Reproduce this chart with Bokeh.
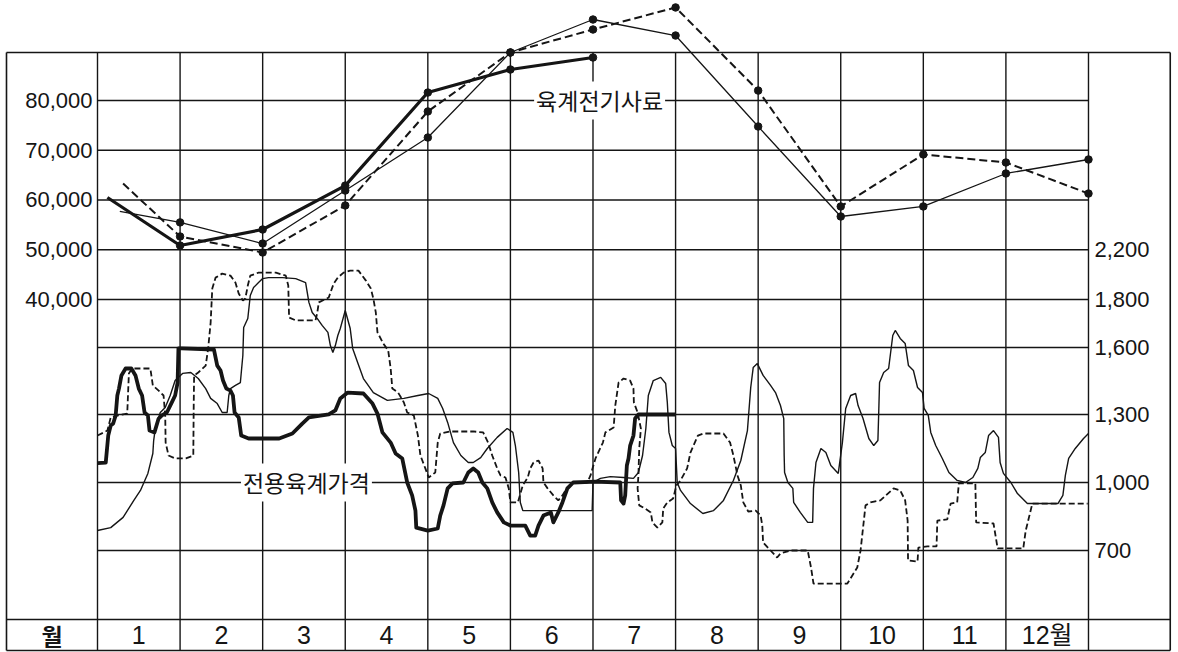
import numpy as np
from bokeh.plotting import figure
from bokeh.models import Range1d
from bokeh.core.properties import value
from bokeh.embed import file_html
from bokeh.resources import INLINE

# ---------------- data ----------------
MONTH_LABELS = ["1", "2", "3", "4", "5", "6", "7", "8", "9", "10", "11", "12월"]
CORNER_LABEL = "월"
LEFT_TICKS = [40000, 50000, 60000, 70000, 80000]
LEFT_LABELS = ["40,000", "50,000", "60,000", "70,000", "80,000"]
RIGHT_TICKS = [700, 1000, 1300, 1600, 1800, 2200]
RIGHT_LABELS = ["700", "1,000", "1,300", "1,600", "1,800", "2,200"]
# where each right-axis tick sits on the left-axis scale (the right scale is piecewise)
RIGHT_TICK_POS = [-10450, 3220, 16890, 30350, 40000, 50000]

FEED_LABEL = "육계전기사료"
PRICE_LABEL = "전용육계가격"

# upper chart: feed price (left axis), x in months
feed_heavy_x = [0.12, 1, 2, 3, 4, 5, 6]
feed_heavy_y = [60500, 50850, 54070, 62900, 81600, 86230, 88640]
feed_thin_x = [0.27, 1, 2, 3, 4, 5, 6, 7, 8, 9, 10, 11, 12]
feed_thin_y = [57700, 55500, 51250, 61900, 72560, 89650, 96280, 93060, 74770, 56680, 58700, 65330, 68140]
feed_dash_x = [0.31, 1, 2, 3, 4, 5, 6, 7, 8, 9, 10, 11, 12]
feed_dash_y = [63300, 52660, 49450, 58900, 77800, 89650, 94270, 98700, 82000, 58700, 69150, 67540, 61300]

# lower chart: broiler price (right axis)
price_heavy_x = [0.00, 0.10, 0.13, 0.16, 0.19, 0.22, 0.24, 0.26, 0.29, 0.34, 0.41, 0.46, 0.50, 0.54, 0.57,
                 0.61, 0.63, 0.69, 0.74, 0.78, 0.84, 0.90, 0.94, 0.97, 0.98, 1.02, 1.41, 1.45, 1.49, 1.52,
                 1.56, 1.61, 1.64, 1.66, 1.71, 1.74, 1.83, 2.20, 2.36, 2.48, 2.56, 2.80, 2.88, 2.94, 3.03,
                 3.22, 3.33, 3.39, 3.45, 3.55, 3.61, 3.69, 3.75, 3.81, 3.85, 3.86, 4.00, 4.12, 4.15, 4.19,
                 4.24, 4.30, 4.43, 4.49, 4.55, 4.61, 4.66, 4.72, 4.78, 4.84, 4.92, 5.00, 5.18, 5.24, 5.30,
                 5.34, 5.40, 5.49, 5.52, 5.58, 5.63, 5.69, 5.76, 6.03, 6.33, 6.34, 6.37, 6.39, 6.41, 6.43,
                 6.45, 6.49, 6.51, 6.55, 7.00]
price_heavy_y = [1085, 1088, 1207, 1251, 1260, 1296, 1385, 1416, 1475, 1506, 1506, 1475, 1416, 1385, 1309,
                 1296, 1229, 1221, 1282, 1296, 1309, 1354, 1385, 1443, 1596, 1596, 1591, 1519, 1497, 1452,
                 1416, 1407, 1385, 1309, 1287, 1207, 1194, 1194, 1216, 1260, 1287, 1300, 1318, 1372, 1398,
                 1394, 1349, 1304, 1221, 1176, 1128, 1106, 1000, 943, 876, 801, 788, 797, 854, 899,
                 974, 996, 1000, 1044, 1062, 1044, 1000, 974, 912, 868, 824, 810, 810, 766, 766,
                 810, 854, 868, 824, 868, 912, 974, 1000, 1004, 1000, 921, 907, 943, 1075, 1106,
                 1163, 1207, 1282, 1300, 1300]

price_thin_x = [0.00, 0.16, 0.31, 0.44, 0.52, 0.61, 0.67, 0.68, 0.70, 0.76, 0.82, 0.88, 0.94, 1.03, 1.13,
                1.22, 1.31, 1.37, 1.45, 1.51, 1.57, 1.59, 1.61, 1.67, 1.73, 1.76, 1.77, 1.82, 1.85, 1.89,
                1.95, 2.00, 2.07, 2.24, 2.40, 2.52, 2.56, 2.60, 2.66, 2.72, 2.79, 2.82, 2.85, 2.88, 2.91,
                2.94, 3.00, 3.06, 3.09, 3.15, 3.22, 3.34, 3.51, 3.71, 3.88, 4.01, 4.12, 4.18, 4.24, 4.31,
                4.40, 4.49, 4.55, 4.64, 4.72, 4.84, 4.96, 5.03, 5.06, 5.10, 5.12, 5.15, 5.99, 6.00, 6.09,
                6.21, 6.37, 6.49, 6.55, 6.60, 6.64, 6.67, 6.73, 6.82, 6.88, 6.90, 6.92, 6.96, 7.00, 7.02,
                7.06, 7.18, 7.33, 7.46, 7.58, 7.70, 7.79, 7.87, 7.91, 7.94, 7.99, 8.06, 8.15, 8.21, 8.27,
                8.31, 8.315, 8.32, 8.36, 8.42, 8.43, 8.51, 8.60, 8.66, 8.67, 8.70, 8.76, 8.82, 8.88, 8.97,
                9.02, 9.06, 9.12, 9.18, 9.21, 9.27, 9.34, 9.40, 9.45, 9.46, 9.47, 9.52, 9.58, 9.63, 9.66,
                9.72, 9.78, 9.82, 9.88, 9.93, 9.99, 10.01, 10.06, 10.09, 10.15, 10.23, 10.31, 10.41, 10.51, 10.60,
                10.66, 10.69, 10.75, 10.79, 10.85, 10.91, 10.93, 10.97, 11.06, 11.14, 11.26, 11.63, 11.69, 11.72, 11.76,
                11.84, 11.94, 12.00]
price_thin_y = [788, 801, 846, 921, 965, 1040, 1128, 1185, 1238, 1309, 1331, 1385, 1452, 1484, 1488,
                1461, 1416, 1372, 1349, 1309, 1309, 1385, 1416, 1430, 1443, 1564, 1683, 1721, 1832, 1896,
                1936, 1968, 1976, 1976, 1968, 1936, 1788, 1746, 1721, 1692, 1663, 1608, 1578, 1608, 1650,
                1679, 1754, 1679, 1596, 1533, 1461, 1398, 1363, 1372, 1385, 1394, 1372, 1327, 1265, 1176,
                1119, 1088, 1088, 1110, 1150, 1199, 1238, 1221, 1163, 1044, 912, 876, 876, 1000, 1018,
                1026, 1022, 1018, 1044, 1119, 1238, 1385, 1452, 1466, 1439, 1354, 1221, 1163, 1150, 1000,
                965, 907, 863, 876, 921, 1009, 1097, 1229, 1421, 1510, 1528, 1475, 1430, 1398, 1340,
                1282, 1119, 1044, 1000, 974, 912, 868, 824, 824, 974, 1088, 1150, 1132, 1075, 1040,
                1176, 1327, 1385, 1394, 1340, 1282, 1194, 1163, 1185, 1309, 1443, 1488, 1506, 1650, 1671,
                1638, 1617, 1519, 1497, 1421, 1398, 1327, 1296, 1221, 1163, 1106, 1044, 1009, 1000, 1022,
                1062, 1110, 1132, 1207, 1229, 1199, 1088, 1040, 1000, 951, 907, 907, 943, 1031, 1106,
                1150, 1194, 1216]

price_dash_x = [0.00, 0.12, 0.16, 0.25, 0.36, 0.38, 0.42, 0.64, 0.67, 0.74, 0.80, 0.82, 0.825, 0.86, 0.94,
                1.07, 1.16, 1.165, 1.17, 1.22, 1.31, 1.34, 1.37, 1.39, 1.43, 1.51, 1.61, 1.67, 1.71, 1.76,
                1.79, 1.82, 1.85, 1.95, 2.16, 2.28, 2.31, 2.32, 2.40, 2.64, 2.66, 2.68, 2.80, 2.86, 2.91,
                2.98, 3.06, 3.16, 3.25, 3.31, 3.34, 3.37, 3.39, 3.46, 3.52, 3.55, 3.57, 3.64, 3.71, 3.75,
                3.83, 3.88, 3.91, 3.97, 4.01, 4.09, 4.12, 4.15, 4.27, 4.55, 4.67, 4.73, 4.78, 4.84, 4.88,
                4.94, 4.98, 5.00, 5.09, 5.15, 5.21, 5.24, 5.28, 5.34, 5.39, 5.40, 5.45, 5.52, 5.58, 5.63,
                5.69, 5.76, 5.93, 5.97, 6.03, 6.12, 6.15, 6.25, 6.27, 6.31, 6.37, 6.45, 6.49, 6.495, 6.54,
                6.58, 6.56, 6.55, 6.54, 6.56, 6.63, 6.70, 6.72, 6.78, 6.84, 6.85, 6.90, 6.97, 7.01, 7.06,
                7.14, 7.18, 7.27, 7.34, 7.58, 7.66, 7.70, 7.75, 7.79, 7.82, 7.88, 7.97, 8.03, 8.05, 8.06,
                8.15, 8.23, 8.27, 8.39, 8.60, 8.64, 8.67, 9.08, 9.20, 9.24, 9.30, 9.36, 9.48, 9.64, 9.72,
                9.78, 9.81, 9.815, 9.93, 9.94, 10.05, 10.16, 10.17, 10.29, 10.33, 10.41, 10.43, 10.63, 10.64, 10.85,
                10.90, 11.21, 11.24, 11.27, 11.32, 11.99]
price_dash_y = [1207, 1229, 1287, 1296, 1304, 1484, 1506, 1506, 1430, 1407, 1385, 1296, 1176, 1119, 1106,
                1106, 1119, 1340, 1475, 1488, 1519, 1596, 1704, 1888, 1976, 2008, 1992, 1936, 1848, 1796,
                1808, 1912, 1992, 2016, 2016, 1992, 1912, 1725, 1713, 1713, 1742, 1788, 1816, 1928, 1976,
                2016, 2032, 2032, 1952, 1888, 1808, 1746, 1663, 1617, 1587, 1506, 1416, 1398, 1354, 1309,
                1296, 1207, 1119, 1062, 1022, 1044, 1176, 1216, 1225, 1225, 1221, 1176, 1119, 1062, 1031,
                1022, 974, 912, 912, 987, 1022, 1062, 1088, 1097, 1062, 1000, 974, 943, 921, 943,
                978, 1000, 1000, 1031, 1106, 1176, 1221, 1243, 1340, 1443, 1461, 1452, 1416, 1354, 1309,
                1238, 1150, 1031, 974, 899, 885, 868, 824, 801, 824, 885, 912, 929, 987, 1009,
                1062, 1132, 1207, 1216, 1216, 1176, 1119, 1031, 987, 912, 872, 876, 854, 810, 735,
                700, 669, 687, 700, 700, 625, 554, 554, 625, 700, 899, 912, 921, 974, 965,
                921, 832, 656, 651, 713, 718, 718, 832, 837, 907, 912, 996, 996, 824, 819,
                709, 709, 788, 832, 907, 907]


def to_pos(v):
    """Place right-axis values on the shared (left-axis) scale, piecewise linear."""
    v = np.asarray(v, dtype=float)
    pos = np.interp(v, RIGHT_TICKS, RIGHT_TICK_POS)
    lo = v < RIGHT_TICKS[0]
    slope = (RIGHT_TICK_POS[1] - RIGHT_TICK_POS[0]) / (RIGHT_TICKS[1] - RIGHT_TICKS[0])
    pos[lo] = RIGHT_TICK_POS[0] + (v[lo] - RIGHT_TICKS[0]) * slope
    return pos


# ---------------- layout constants ----------------
N = len(MONTH_LABELS)
X_LEFT_EDGE, X_RIGHT_EDGE = -1.102, 12.99
Y_TOP, Y_ROW, Y_BOTTOM = 89650, -24320, -30551
INK = "#151515"
NUM_FONT = value("Liberation Sans")
KR_FONT = value("Noto Sans CJK KR")

p = figure(width=1178, height=652, x_range=Range1d(-1.1746, 13.090), y_range=Range1d(-30953, 100099),
           output_backend="svg", toolbar_location=None, x_axis_type=None, y_axis_type=None,
           min_border=0, min_border_left=0, min_border_right=0, min_border_top=0, min_border_bottom=0)
p.grid.visible = False
p.outline_line_color = None
p.background_fill_color = "white"
p.border_fill_color = "white"

# ---- grid / frame ----
months = np.arange(N + 1)
p.segment(x0=months, y0=[Y_BOTTOM] * (N + 1), x1=months, y1=[Y_TOP] * (N + 1), line_color=INK, line_width=1.4)
hlines = list(LEFT_TICKS) + list(to_pos(RIGHT_TICKS[:4]))
p.segment(x0=[0] * len(hlines), y0=hlines, x1=[N] * len(hlines), y1=hlines, line_color=INK, line_width=1.4)
for yy in (Y_TOP, Y_ROW, Y_BOTTOM):
    p.segment(x0=[X_LEFT_EDGE], y0=[yy], x1=[X_RIGHT_EDGE], y1=[yy], line_color=INK, line_width=1.6)
for xx in (X_LEFT_EDGE, X_RIGHT_EDGE):
    p.segment(x0=[xx], y0=[Y_BOTTOM], x1=[xx], y1=[Y_TOP], line_color=INK, line_width=1.6)

# ---- axis labels ----
p.text(x=[0] * len(LEFT_TICKS), y=LEFT_TICKS, text=LEFT_LABELS, x_offset=-5, text_align="right",
       text_baseline="middle", text_font=NUM_FONT, text_font_size="22px", text_color=INK)
p.text(x=[N] * len(RIGHT_TICKS), y=to_pos(RIGHT_TICKS), text=RIGHT_LABELS, x_offset=6, text_align="left",
       text_baseline="middle", text_font=NUM_FONT, text_font_size="22px", text_color=INK)
y_cells = (Y_ROW + Y_BOTTOM) / 2
p.text(x=np.arange(N) + 0.5, y=[y_cells] * N, text=MONTH_LABELS, text_align="center", text_baseline="middle",
       text_font=value("Liberation Sans, Noto Sans CJK KR"), text_font_size="25px", text_color=INK)
p.text(x=[X_LEFT_EDGE / 2], y=[y_cells], text=[CORNER_LABEL], text_align="center", text_baseline="middle",
       text_font=KR_FONT, text_font_size="23px", text_font_style="bold", text_color=INK)

# ---- series labels ----
p.text(x=[6.08], y=[LEFT_TICKS[-1]], text=[FEED_LABEL], text_align="center", text_baseline="middle",
       text_font=KR_FONT, text_font_size="23px", text_color=INK,
       background_fill_color="white", padding=2)
p.text(x=[2.53], y=[to_pos([RIGHT_TICKS[1]])[0]], text=[PRICE_LABEL], text_align="center",
       text_baseline="middle", text_font=KR_FONT, text_font_size="23px", text_color=INK,
       background_fill_color="white", padding=2)

# ---- lower series ----
p.line(price_thin_x, to_pos(price_thin_y), line_color=INK, line_width=1.4)
p.line(price_dash_x, to_pos(price_dash_y), line_color=INK, line_width=1.8, line_dash="6 3")
p.line(price_heavy_x, to_pos(price_heavy_y), line_color=INK, line_width=3.8, line_join="round")

# ---- upper series ----
p.line(feed_thin_x, feed_thin_y, line_color=INK, line_width=1.3)
p.line(feed_dash_x, feed_dash_y, line_color=INK, line_width=2, line_dash="8 4")
p.line(feed_heavy_x, feed_heavy_y, line_color=INK, line_width=3.2)
for xs, ys in ((feed_thin_x, feed_thin_y), (feed_dash_x, feed_dash_y), (feed_heavy_x, feed_heavy_y)):
    p.scatter(xs[1:], ys[1:], size=7.5, fill_color=INK, line_color=INK)

open("out.html", "w").write(file_html(p, INLINE))
